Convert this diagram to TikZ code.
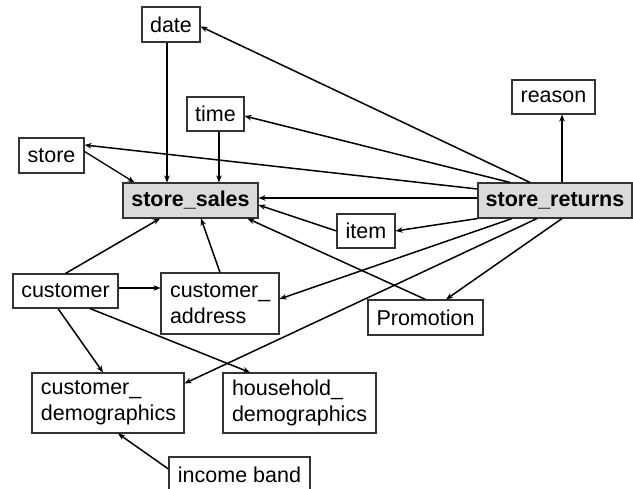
\documentclass[tikz,border=0pt]{standalone}
\usepackage{fontspec}
\setmainfont{Liberation Sans}
\usetikzlibrary{arrows.meta}
\begin{document}
\begin{tikzpicture}[x=1pt,y=-1pt,
  box/.style={draw=black!80,line width=1.1pt,fill=white,inner sep=0pt,font=\fontsize{21.5}{25.5}\selectfont,anchor=center},
  fact/.style={box,fill=black!14,font=\fontsize{21.5}{25.5}\selectfont\bfseries},
  tbox/.style={box,align=left,inner xsep=9pt},
  conn/.style={line width=1.5pt,-{Stealth[length=7pt,width=5.5pt]}}]
\useasboundingbox (0,0) rectangle (633,489);
\fill[white] (0,0) rectangle (633,489);
\node[box,minimum width=58pt,minimum height=35pt] (date) at (171,24.5) {date};
\node[box,minimum width=57pt,minimum height=34pt] (time) at (215.5,114) {time};
\node[box,minimum width=65pt,minimum height=35pt] (store) at (51.5,155.5) {store};
\node[fact,minimum width=135pt,minimum height=35pt] (ss) at (190.5,200.5) {store\_sales};
\node[box,minimum width=83pt,minimum height=34pt] (reason) at (553.5,97) {reason};
\node[fact,minimum width=154pt,minimum height=35pt] (sr) at (555,200.5) {store\_returns};
\node[box,minimum width=58pt,minimum height=34pt] (item) at (366,231) {item};
\node[box,minimum width=105pt,minimum height=34pt] (cust) at (65.5,291) {customer};
\node[tbox,text width=100pt,minimum height=61pt] (ca) at (220,303.5) {customer\_\\address};
\node[box,minimum width=115pt,minimum height=35pt] (promo) at (425.5,317.5) {Promotion};
\node[tbox,text width=134pt,minimum height=60pt] (cd) at (108,403) {customer\_\\demographics};
\node[tbox,text width=135pt,minimum height=60pt] (hd) at (299.5,403) {household\_\\demographics};
\node[box,minimum width=141pt,minimum height=35pt] (ib) at (239.5,474.5) {income band};
% store_sales dimensions
\draw[conn,line width=2.6pt] ([xshift=-4pt]date.south) -- ([xshift=-4pt]date.south |- ss.north);
\draw[conn,line width=2pt] ([xshift=3.5pt]time.south) -- ([xshift=3.5pt]time.south |- ss.north);
\draw[conn,line width=1.3pt] ([yshift=4pt]store.east) -- ([xshift=12pt]ss.north west);
\draw[conn] ([yshift=2.5pt]sr.west) -- ([yshift=2.5pt]ss.east);
\draw[conn] (item.west) -- ([yshift=-4.5pt]ss.east);
\draw[conn] (promo.north) -- ([xshift=-11pt]ss.south east);
\draw[conn] (cust.north) -- ([xshift=-30.5pt]ss.south);
\draw[conn] (ca.north) -- ([xshift=10.5pt]ss.south);
% store_returns dimensions
\draw[conn] ([xshift=-25pt]sr.north) -- ([yshift=-2pt]date.east);
\draw[conn] ([xshift=-45pt]sr.north) -- ([yshift=-2pt]time.east);
\draw[conn] ([yshift=11.5pt]sr.west) -- ([yshift=10.5pt]store.east);
\draw[conn] (sr.south west) -- (item.east);
\draw[conn] ([xshift=-43pt]sr.south) -- ([yshift=4.5pt]ca.east);
\draw[conn] ([xshift=-18pt]sr.south) -- ([yshift=-11pt]cd.north east);
\draw[conn] ([xshift=7pt]sr.south) -- ([xshift=20.5pt]promo.north);
\draw[conn] ([xshift=7pt]sr.north) -- ([xshift=7pt]sr.north |- reason.south);
% customer
\draw[conn] ([yshift=3pt]cust.east) -- ([yshift=3pt]cust.east -| ca.west);
\draw[conn] ([xshift=-7.5pt]cust.south) -- ([xshift=-5pt]cd.north);
\draw[conn] ([xshift=24.5pt]cust.south) -- ([xshift=-49.5pt]hd.north);
\draw[conn] ([yshift=5.5pt]ib.west) -- ([xshift=10pt]cd.south);
\end{tikzpicture}
\end{document}
